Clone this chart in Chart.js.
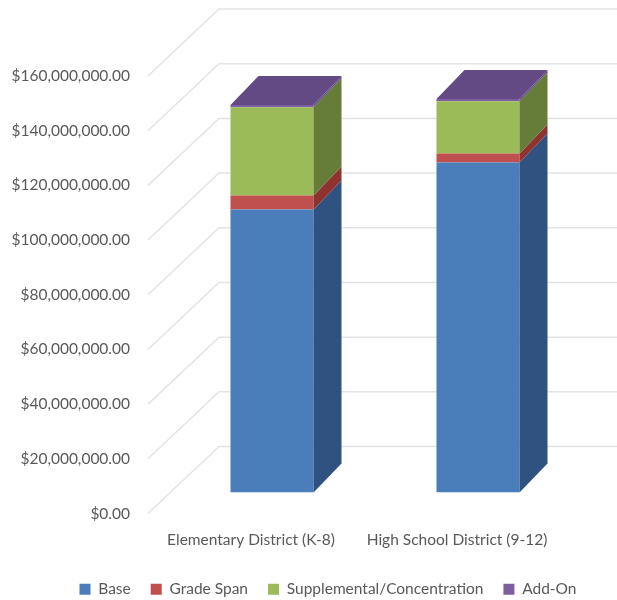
<!DOCTYPE html>
<html>
<head>
<meta charset="utf-8">
<style>
  body { margin: 0; background: #fff; }
</style>
<script src="https://cdn.jsdelivr.net/npm/chart.js@4"></script>
</head>
<body>
<canvas id="fundingChart" width="617" height="600"></canvas>
<script>
// Values
const categories = ['Elementary District (K-8)', 'High School District (9-12)'];
const base = [103500000, 120700000];
const gradeSpan = [5100000, 3300000];
const supplemental = [32300000, 19100000];
const addOn = [800000, 800000];

const frontColors = ['#4a7ebb', '#c0504d', '#9bbb59', '#7d5fa0'];
const sideColors = ['#2f5280', '#8f3331', '#667d3a', '#664c84'];
const topColor = '#644a85';
const gridColor = '#e3e3e3';

// 3D look: where the bars stand compared with the axis plane
const barShiftX = 21, barShiftY = -21;
const barDepthX = 28, barDepthY = 29;
const wallDepthX = 71, wallDepthY = 67;

function face(ctx, points, color) {
    ctx.fillStyle = color;
    ctx.beginPath();
    points.forEach(function(p, i) {
        if (i === 0) ctx.moveTo(p[0], p[1]);
        else ctx.lineTo(p[0], p[1]);
    });
    ctx.closePath();
    ctx.fill();
}

const box3d = {
    id: 'box3d',
    afterLayout: function(chart) {
        // legend sits lower and further right than the default
        const legend = chart.legend;
        legend.left += 48; legend.right += 48;
        legend.top += 7; legend.bottom += 7;
    },
    beforeDatasetsDraw: function(chart) {
        const ctx = chart.ctx;
        const area = chart.chartArea;
        const y = chart.scales.y;
        ctx.save();
        ctx.strokeStyle = gridColor;
        ctx.lineWidth = 1.5;
        y.ticks.forEach(function(t) {
            const py = y.getPixelForValue(t.value);
            ctx.beginPath();
            ctx.moveTo(area.left, py);
            ctx.lineTo(area.left + wallDepthX, py - wallDepthY);
            ctx.lineTo(chart.width, py - wallDepthY);
            ctx.stroke();
        });
        ctx.restore();
        ctx.save();
        ctx.translate(barShiftX, barShiftY);
    },
    afterDatasetsDraw: function(chart) {
        const ctx = chart.ctx;
        const last = chart.data.datasets.length - 1;
        chart.data.datasets.forEach(function(ds, i) {
            chart.getDatasetMeta(i).data.forEach(function(bar) {
                const b = bar.getProps(['x', 'y', 'base', 'width'], true);
                const left = b.x - b.width / 2;
                const right = b.x + b.width / 2;
                face(ctx, [
                    [right, b.y],
                    [right + barDepthX, b.y - barDepthY],
                    [right + barDepthX, b.base - barDepthY],
                    [right, b.base]
                ], sideColors[i]);
                if (i === last) {
                    face(ctx, [
                        [left, b.y],
                        [left + barDepthX, b.y - barDepthY],
                        [right + barDepthX, b.y - barDepthY],
                        [right, b.y]
                    ], topColor);
                }
            });
        });
        ctx.restore();
    }
};

Chart.defaults.font.family = 'Lato';
Chart.defaults.font.size = 15.5;
Chart.defaults.color = '#595959';

new Chart(document.getElementById('fundingChart'), {
    type: 'bar',
    data: {
        labels: categories,
        datasets: [
            { label: 'Base', data: base, backgroundColor: frontColors[0] },
            { label: 'Grade Span', data: gradeSpan, backgroundColor: frontColors[1] },
            { label: 'Supplemental/Concentration', data: supplemental, backgroundColor: frontColors[2] },
            { label: 'Add-On', data: addOn, backgroundColor: frontColors[3] }
        ]
    },
    options: {
        responsive: false,
        animation: false,
        categoryPercentage: 0.403,
        barPercentage: 1,
        layout: { padding: { top: 76, right: 57, bottom: 0, left: 0 } },
        scales: {
            x: {
                stacked: true,
                grid: { display: false, drawTicks: false },
                border: { display: false },
                ticks: { padding: 17.5, maxRotation: 0, autoSkip: false },
                afterFit: function(scale) { scale.height = 41; }
            },
            y: {
                stacked: true,
                min: 0,
                max: 160000000,
                grid: { display: false, drawTicks: false },
                border: { display: false },
                ticks: {
                    stepSize: 20000000,
                    padding: 18,
                    callback: function(v) {
                        return '$' + v.toLocaleString('en-US', { minimumFractionDigits: 2, maximumFractionDigits: 2 });
                    }
                },
                afterFit: function(scale) { scale.width = 148; }
            }
        },
        plugins: {
            tooltip: { enabled: false },
            legend: {
                position: 'bottom',
                labels: { boxWidth: 11, boxHeight: 11, padding: 20 }
            }
        }
    },
    plugins: [box3d]
});
</script>
</body>
</html>
